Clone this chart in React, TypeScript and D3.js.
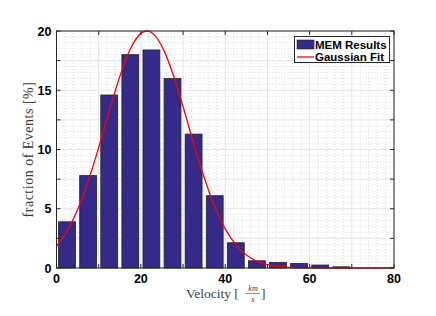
import React from "react";
import * as d3 from "d3";

// histogram bins (left edges, 5 km/s wide) and heights in %
const binStarts = [0, 5, 10, 15, 20, 25, 30, 35, 40, 45, 50, 55, 60, 65, 70, 75];
const memResults = [3.9, 7.8, 14.6, 18.0, 18.4, 16.0, 11.3, 6.1, 2.13, 0.61, 0.47, 0.39, 0.25, 0.1, 0, 0];

// gaussian fit curve
const fitX = [0, 2.5, 5, 7.5, 10, 12.5, 15, 17.5, 20, 21.4, 22.5, 25, 27.5, 30, 32.5, 35, 37.5, 40, 42.5, 45, 47.5, 50, 52.5, 55, 57.5, 60, 65, 70, 75, 80];
const fitY = [1.84, 3.11, 4.93, 7.31, 10.17, 13.24, 16.16, 18.48, 19.8, 20, 19.87, 18.7, 16.48, 13.61, 10.53, 7.64, 5.19, 3.3, 1.97, 1.1, 0.58, 0.28, 0.13, 0.06, 0.02, 0.01, 0, 0, 0, 0];

const xTickLabels = [0, 20, 40, 60, 80];
const yTickLabels = [0, 5, 10, 15, 20];

const W = 436, H = 316;
const margin = { top: 31, right: 42, bottom: 48, left: 56.5 };
const barColor = "#35298a";
const lineColor = "#ff0000";

export default function App() {
  const x = d3.scaleLinear().domain([0, 80]).range([margin.left, W - margin.right]);
  const y = d3.scaleLinear().domain([0, 20]).range([H - margin.bottom, margin.top]);
  const [x0, x1] = x.range();
  const [y0, y1] = y.range();

  const majorX = d3.range(0, 81, 10);
  const minorX = d3.range(0, 81, 2).filter(v => v % 10 !== 0);
  const majorY = d3.range(0, 20.01, 2.5);
  const minorY = d3.range(0, 20.01, 0.5).filter(v => Math.abs(v / 2.5 - Math.round(v / 2.5)) > 1e-6);

  const line = d3.line<number>()
    .x((_, i) => x(fitX[i]))
    .y(d => y(d))
    .curve(d3.curveMonotoneX);

  const barW = 0.8 * (x(5) - x(0));
  const tickLen = 4;
  const tickFont = "'Liberation Sans', Arial, sans-serif";
  const labelFont = "'Liberation Serif', 'DejaVu Serif', serif";

  return (
    <svg width={W} height={H} style={{ position: "absolute", left: 0, top: 0, background: "#fff" }}>
      {/* grid */}
      <g>
        {minorX.map(v => (
          <line key={"mx" + v} x1={x(v)} x2={x(v)} y1={y0} y2={y1} stroke="#d4d4d4" strokeWidth={0.8} strokeDasharray="1,2" />
        ))}
        {minorY.map(v => (
          <line key={"my" + v} y1={y(v)} y2={y(v)} x1={x0} x2={x1} stroke="#d4d4d4" strokeWidth={0.8} strokeDasharray="1,2" />
        ))}
        {majorX.map(v => (
          <line key={"Mx" + v} x1={x(v)} x2={x(v)} y1={y0} y2={y1} stroke="#e3e3e3" strokeWidth={1} />
        ))}
        {majorY.map(v => (
          <line key={"My" + v} y1={y(v)} y2={y(v)} x1={x0} x2={x1} stroke="#e3e3e3" strokeWidth={1} />
        ))}
      </g>

      {/* bars */}
      <g>
        {memResults.map((v, i) => v > 0 && (
          <rect key={i}
            x={x(binStarts[i] + 2.5) - barW / 2}
            y={y(v)}
            width={barW}
            height={y(0) - y(v)}
            fill={barColor}
            stroke="#222"
            strokeWidth={0.8} />
        ))}
      </g>

      {/* gaussian fit */}
      <path d={line(fitY) || ""} fill="none" stroke={lineColor} strokeWidth={1.3} />

      {/* axes box and ticks */}
      <rect x={x0} y={y1} width={x1 - x0} height={y0 - y1} fill="none" stroke="#262626" strokeWidth={1} />
      {majorX.map(v => (
        <g key={"tx" + v}>
          <line x1={x(v)} x2={x(v)} y1={y0} y2={y0 - tickLen} stroke="#262626" />
          <line x1={x(v)} x2={x(v)} y1={y1} y2={y1 + tickLen} stroke="#262626" />
        </g>
      ))}
      {majorY.map(v => (
        <g key={"ty" + v}>
          <line x1={x0} x2={x0 + tickLen} y1={y(v)} y2={y(v)} stroke="#262626" />
          <line x1={x1} x2={x1 - tickLen} y1={y(v)} y2={y(v)} stroke="#262626" />
        </g>
      ))}

      {/* tick labels */}
      {xTickLabels.map(v => (
        <text key={"lx" + v} x={x(v)} y={y0 + 14.5} textAnchor="middle" fontFamily={tickFont} fontWeight="bold" fontSize={12.5} fill="#000">{v}</text>
      ))}
      {yTickLabels.map(v => (
        <text key={"ly" + v} x={x0 - 5} y={y(v) + 4.5} textAnchor="end" fontFamily={tickFont} fontWeight="bold" fontSize={12.5} fill="#000">{v}</text>
      ))}

      {/* axis labels */}
      <text transform={`translate(33,${(y0 + y1) / 2}) rotate(-90)`} textAnchor="middle" fontFamily={labelFont} fontSize={14} letterSpacing={0.5} fill="#3a3a3a">
        fraction of Events [%]
      </text>
      <g fontFamily={labelFont} fill="#3a3a3a">
        <text x={186} y={298} fontSize={13.5}>Velocity [</text>
        <text x={253} y={291} fontSize={8} fontStyle="italic" textAnchor="middle">km</text>
        <line x1={246} x2={260} y1={293.5} y2={293.5} stroke="#3a3a3a" strokeWidth={0.6} />
        <text x={253} y={302} fontSize={8} fontStyle="italic" textAnchor="middle">s</text>
        <text x={261} y={298} fontSize={13.5}>]</text>
      </g>

      {/* legend */}
      <g>
        <rect x={294.5} y={36.5} width={95} height={26} fill="#fff" stroke="#262626" strokeWidth={1} />
        <rect x={297} y={40} width={17} height={9} fill={barColor} stroke="#222" strokeWidth={0.6} />
        <text x={315} y={48.5} fontFamily={tickFont} fontWeight="bold" fontSize={11.5} fill="#000">MEM Results</text>
        <line x1={297} x2={314} y1={57} y2={57} stroke={lineColor} strokeWidth={1.3} />
        <text x={315} y={60.5} fontFamily={tickFont} fontWeight="bold" fontSize={11.5} fill="#000">Gaussian Fit</text>
      </g>
    </svg>
  );
}
